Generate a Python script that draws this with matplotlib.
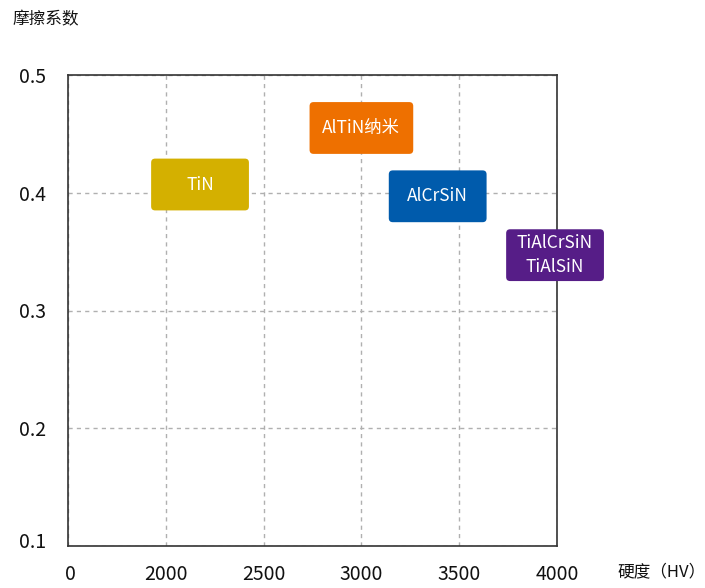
import matplotlib
matplotlib.use("Agg")
import matplotlib.pyplot as plt
from matplotlib.patches import FancyBboxPatch
from matplotlib.transforms import ScaledTranslation

plt.rcParams['font.family'] = ['Noto Sans CJK SC', 'DejaVu Sans']

# Data
coatings = ["TiN", "AlTiN纳米", "AlCrSiN", "TiAlCrSiN\nTiAlSiN"]
hardness = [2175, 3000, 3390, 3990]
friction = [0.407, 0.455, 0.397, 0.347]
box_widths = [500, 530, 500, 500]
colors = ["#D4B000", "#EE7000", "#005BAC", "#561D87"]

x_ticks = [1500, 2000, 2500, 3000, 3500, 4000]
x_tick_labels = ["0", "2000", "2500", "3000", "3500", "4000"]
y_ticks = [0.1, 0.2, 0.3, 0.4, 0.5]
y_tick_labels = ["0.1", "0.2", "0.3", "0.4", "0.5"]

fig = plt.figure(figsize=(7.05, 5.88), dpi=100)
ax = fig.add_axes([68/705, 1-546/588, (557-68)/705, (546-75)/588])
ax.set_xlim(1500, 4000)
ax.set_ylim(0.1, 0.5)

ax.set_xticks(x_ticks)
ax.set_xticklabels(x_tick_labels)
ax.set_yticks(y_ticks)
ax.set_yticklabels(y_tick_labels)
ax.tick_params(axis='both', length=0, labelsize=14, labelcolor='#111111')
ax.tick_params(axis='x', pad=13)
ax.tick_params(axis='y', pad=16)

# offset bottom y label upward a bit; shift "0" slightly right
lbl = ax.get_yticklabels()[0]
lbl.set_transform(lbl.get_transform() + ScaledTranslation(0, 6/100, fig.dpi_scale_trans))
xl = ax.get_xticklabels()[0]
xl.set_transform(xl.get_transform() + ScaledTranslation(2/100, 0, fig.dpi_scale_trans))

ax.grid(True, color='#B0B0B0', linestyle=(0, (3, 3)), linewidth=1)
ax.set_axisbelow(True)
for s in ax.spines.values():
    s.set_color('#333333')
    s.set_linewidth(1.2)

box_h = 0.044
# aspect: units per px
ux = 2500 / (557 - 68)
uy = 0.4 / (546 - 75)
for name, x, y, w, c in zip(coatings, hardness, friction, box_widths, colors):
    p = FancyBboxPatch((x - w/2, y - box_h/2), w, box_h,
                       boxstyle=f"round,pad=0,rounding_size={4*ux}",
                       mutation_aspect=uy/ux,
                       facecolor=c, edgecolor='none', zorder=3, clip_on=False)
    ax.add_patch(p)
    ax.text(x, y, name, ha='center', va='center', color='white',
            fontsize=12.5, zorder=4, linespacing=1.45, clip_on=False)

fig.text(12/705, 1-20/588, "摩擦系数", ha='left', va='center', fontsize=12, color='#111111')
fig.text(617/705, 1-572/588, "硬度（HV）", ha='left', va='center', fontsize=12, color='#111111')

fig.savefig("out.png", dpi=100)
